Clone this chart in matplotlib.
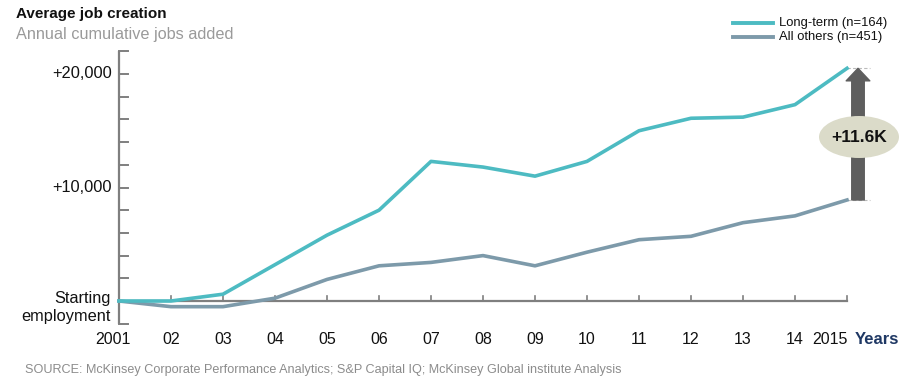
import matplotlib.pyplot as plt
from matplotlib.patches import Ellipse

plt.rcParams["font.family"] = ["Liberation Sans", "DejaVu Sans"]

years = [2001, 2002, 2003, 2004, 2005, 2006, 2007, 2008, 2009, 2010, 2011, 2012, 2013, 2014, 2015]
year_labels = ["2001", "02", "03", "04", "05", "06", "07", "08", "09", "10", "11", "12", "13", "14", "2015"]
long_term = [0, 0, 600, 3200, 5800, 8000, 12300, 11800, 11000, 12300, 15000, 16100, 16200, 17300, 20500]
all_others = [0, -500, -500, 250, 1900, 3100, 3400, 4000, 3100, 4300, 5400, 5700, 6900, 7500, 8900]
y_labels = {20000: "+20,000", 10000: "+10,000", 0: "Starting\nemployment"}
gap_label = "+11.6K"

TEAL = "#4DBBC2"
SLATE = "#7D9AAA"
AXIS = "#7F7F7F"

W, H = 918, 386
fig = plt.figure(figsize=(W / 100, H / 100), dpi=100)

# pixel mapping of the reference layout
x0_px, px_per_year = 119, 52.0
y0_px, px_per_1000 = 301, 11.35
left, right, top, bottom = 110, 900, 50, 330
ax = fig.add_axes([left / W, 1 - bottom / H, (right - left) / W, (bottom - top) / H])
ax.set_xlim(2001 + (left - x0_px) / px_per_year, 2001 + (right - x0_px) / px_per_year)
ax.set_ylim((y0_px - bottom) / px_per_1000 * 1000, (y0_px - top) / px_per_1000 * 1000)
ax.axis("off")


def px_x(px):
    return 2001 + (px - x0_px) / px_per_year


def px_y(px):
    return (y0_px - px) / px_per_1000 * 1000


# y axis with inward ticks every 2000
ax.plot([2001, 2001], [-2000, 22000], color=AXIS, lw=1.6, solid_capstyle="butt", zorder=2)
tick_w = 9 / px_per_year
for v in range(-2000, 22001, 2000):
    ax.plot([2001, 2001 + tick_w], [v, v], color=AXIS, lw=1.4, zorder=2)

# x axis at starting employment with upward ticks
ax.plot([2001, 2015], [0, 0], color=AXIS, lw=1.6, zorder=2)
tick_h = 5 / px_per_1000 * 1000
for yr in years[1:]:
    ax.plot([yr, yr], [0, tick_h], color=AXIS, lw=1.2, zorder=2)

ax.plot(years, all_others, color=SLATE, lw=2.6, solid_joinstyle="round", zorder=3)
ax.plot(years, long_term, color=TEAL, lw=2.6, solid_joinstyle="round", zorder=4)

# gap arrow between the two 2015 values
arrow_x = px_x(858)
for v in (long_term[-1], all_others[-1]):
    ax.plot([2015, 2015 + 23 / px_per_year], [v, v], color="#BBBBBB", lw=0.8,
            linestyle=(0, (3, 2)), zorder=2)
ax.annotate("", xy=(arrow_x, long_term[-1]), xytext=(arrow_x, all_others[-1]),
            arrowprops=dict(arrowstyle="simple,head_length=0.45,head_width=0.85,tail_width=0.45",
                            mutation_scale=20, color="#5E5E5E", shrinkA=0, shrinkB=0),
            zorder=5, annotation_clip=False)
ell_x, ell_y = px_x(859), px_y(137)
ax.add_patch(Ellipse((ell_x, ell_y), 80 / px_per_year, 42 / px_per_1000 * 1000,
                     fc="#DBDBC9", ec="none", zorder=6, clip_on=False))
ax.text(ell_x, ell_y, gap_label, ha="center", va="center", fontsize=12.5,
        fontweight="bold", color="#111111", zorder=7)

# y labels
for v, lab in y_labels.items():
    if v == 0:
        ax.text(px_x(111), px_y(307), lab, ha="right", va="center",
                fontsize=11.8, linespacing=1.25, color="#111111")
    else:
        ax.text(px_x(112), v, lab, ha="right", va="center", fontsize=11.8, color="#111111")

# x labels
for yr, lab in zip(years, year_labels):
    if yr == 2015:
        xpx, ha = x0_px + (yr - 2001) * px_per_year + 1, "right"
    elif yr == 2001:
        xpx, ha = 113, "center"
    else:
        xpx, ha = x0_px + (yr - 2001) * px_per_year, "center"
    fig.text(xpx / W, 1 - 340 / H, lab, ha=ha, va="center", fontsize=11.5, color="#111111")
fig.text(855 / W, 1 - 340 / H, "Years", ha="left", va="center", fontsize=12,
         fontweight="bold", color="#1F3864")

# titles
fig.text(16 / W, 1 - 14 / H, "Average job creation", ha="left", va="center",
         fontsize=11, fontweight="bold", color="#111111")
fig.text(16 / W, 1 - 34 / H, "Annual cumulative jobs added", ha="left", va="center",
         fontsize=11.7, color="#9A9A9A")

# legend
for yy, col, lab in [(23, TEAL, "Long-term (n=164)"), (37, SLATE, "All others (n=451)")]:
    fig.add_artist(plt.Line2D([733 / W, 773 / W], [1 - yy / H, 1 - yy / H], color=col, lw=2.8))
    fig.text(779 / W, 1 - yy / H, lab, ha="left", va="center", fontsize=9.4, color="#111111")

fig.text(25 / W, 1 - 370 / H,
         "SOURCE: McKinsey Corporate Performance Analytics; S&P Capital IQ; McKinsey Global institute Analysis",
         ha="left", va="center", fontsize=9.1, color="#8C8C8C")

fig.savefig("out.png", dpi=100)
